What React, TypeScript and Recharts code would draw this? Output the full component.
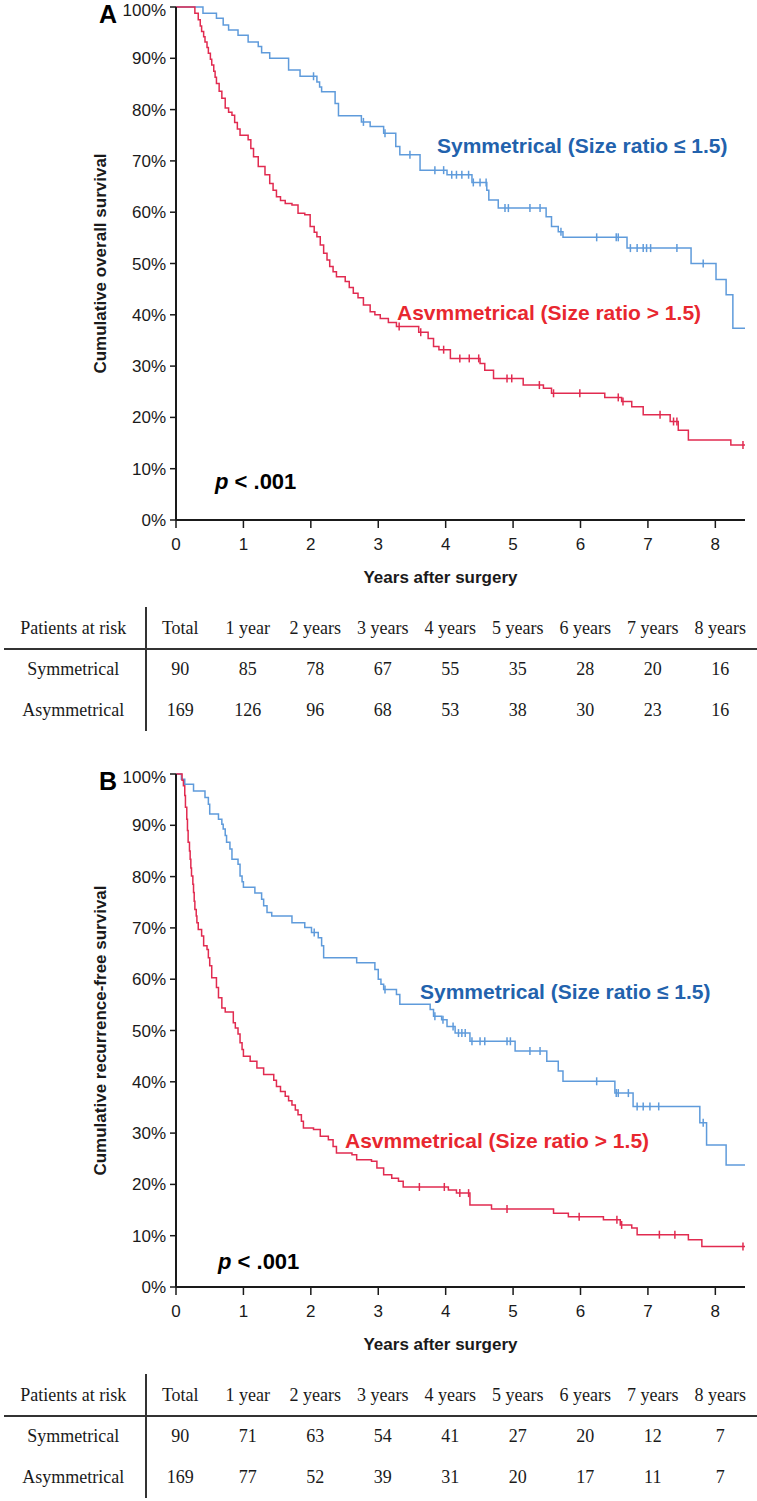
import React from "react"
import { ComposedChart, Line, Scatter, XAxis, YAxis } from "recharts"

// step points: [years, survival %] after each drop, last point = end of follow-up
const osSymSteps: [number, number][] = [
  [0, 100], [0.4, 98.8], [0.6, 97.8], [0.7, 96.5], [0.78, 95.5], [0.92, 94.5], [1.07, 93.2],
  [1.22, 92.3], [1.27, 91.1], [1.39, 90.0], [1.67, 87.7], [1.84, 86.5], [2.09, 85.4], [2.13, 84.4],
  [2.16, 83.5], [2.36, 81.2], [2.41, 78.8], [2.75, 77.6], [2.88, 76.7], [3.08, 75.4], [3.26, 72.8],
  [3.32, 71.2], [3.62, 68.2], [4.02, 67.3], [4.39, 65.8], [4.61, 64.3], [4.64, 62.4], [4.78, 60.8],
  [5.49, 59.1], [5.57, 57.2], [5.67, 56.2], [5.74, 55.1], [6.69, 53.0], [7.64, 50.0], [8.01, 46.9],
  [8.16, 43.9], [8.26, 37.4], [8.44, 37.4],
]
const osSymCensor = [
  2.04, 2.78, 3.1, 3.47, 3.84, 3.97, 4.09, 4.16, 4.24, 4.34, 4.41, 4.51, 4.6, 4.88, 4.93, 5.25,
  5.4, 5.71, 6.24, 6.53, 6.56, 6.74, 6.84, 6.93, 6.98, 7.04, 7.43, 7.82,
]
const osAsymSteps: [number, number][] = [
  [0, 100], [0.28, 98.8], [0.33, 97.5], [0.36, 96.3], [0.38, 95.2], [0.41, 94.2], [0.43, 93.2],
  [0.46, 92.1], [0.48, 91.0], [0.51, 89.8], [0.53, 88.7], [0.56, 87.5], [0.58, 86.3], [0.6, 85.1],
  [0.64, 83.6], [0.68, 82.2], [0.73, 80.3], [0.78, 79.5], [0.83, 78.9], [0.87, 77.5], [0.91, 76.2],
  [0.95, 75.0], [1.07, 74.1], [1.11, 72.4], [1.15, 70.8], [1.22, 68.9], [1.32, 67.3], [1.39, 65.6],
  [1.44, 64.3], [1.49, 63.0], [1.55, 62.3], [1.62, 61.7], [1.72, 61.4], [1.81, 59.8], [1.91, 59.5],
  [1.99, 57.2], [2.05, 56.1], [2.09, 55.2], [2.14, 53.6], [2.19, 52.0], [2.24, 50.7], [2.28, 49.4],
  [2.33, 48.4], [2.38, 47.4], [2.51, 46.5], [2.57, 45.3], [2.63, 44.2], [2.7, 43.3], [2.78, 41.9],
  [2.88, 40.6], [2.95, 40.0], [3.03, 39.3], [3.15, 38.5], [3.27, 37.7], [3.6, 36.6], [3.74, 35.4],
  [3.82, 33.8], [3.9, 33.2], [4.07, 31.5], [4.51, 30.5], [4.58, 29.2], [4.71, 27.6], [5.15, 26.3],
  [5.45, 25.7], [5.57, 24.7], [6.36, 23.9], [6.61, 23.1], [6.76, 22.1], [6.93, 20.5], [7.33, 19.2],
  [7.45, 17.5], [7.6, 15.6], [8.23, 14.6], [8.44, 14.6],
]
const osAsymCensor = [
  3.31, 3.63, 3.97, 4.21, 4.35, 4.49, 4.91, 4.98, 5.39, 5.6, 5.99, 6.56, 6.63, 7.18, 7.38, 7.43, 8.41,
]

const rfsSymSteps: [number, number][] = [
  [0, 100], [0.08, 99.0], [0.13, 98.0], [0.26, 96.7], [0.43, 95.4], [0.48, 94.1], [0.5, 92.2],
  [0.63, 91.2], [0.68, 90.2], [0.7, 89.3], [0.73, 88.0], [0.75, 86.7], [0.8, 85.4], [0.83, 83.4],
  [0.92, 82.4], [0.95, 80.1], [0.98, 79.0], [1.0, 77.9], [1.17, 76.8], [1.27, 75.6], [1.3, 74.3],
  [1.35, 73.0], [1.42, 72.3], [1.72, 71.0], [1.91, 70.1], [2.01, 69.1], [2.11, 68.1], [2.16, 66.5],
  [2.19, 64.2], [2.68, 63.2], [2.95, 61.9], [3.0, 60.0], [3.04, 59.0], [3.08, 58.0], [3.27, 57.0],
  [3.32, 55.1], [3.77, 54.1], [3.82, 52.8], [3.94, 52.1], [4.02, 50.8], [4.14, 49.5], [4.36, 47.9],
  [5.03, 46.0], [5.5, 44.0], [5.67, 42.1], [5.74, 40.1], [6.51, 37.8], [6.78, 35.2], [7.77, 32.0],
  [7.87, 27.7], [8.16, 23.8], [8.44, 23.8],
]
const rfsSymCensor = [
  2.05, 3.1, 3.84, 3.96, 4.11, 4.19, 4.24, 4.29, 4.39, 4.51, 4.58, 4.91, 4.96, 5.25, 5.4, 6.24,
  6.53, 6.56, 6.71, 6.84, 6.93, 7.03, 7.16, 7.82,
]
const rfsAsymSteps: [number, number][] = [
  [0, 100], [0.09, 98.8], [0.11, 97.7], [0.13, 95.8], [0.14, 93.5], [0.16, 91.2], [0.17, 89.0],
  [0.18, 86.7], [0.2, 85.0], [0.21, 83.4], [0.22, 81.7], [0.23, 80.1], [0.25, 78.5], [0.26, 76.9],
  [0.27, 75.2], [0.28, 73.6], [0.3, 72.3], [0.31, 71.0], [0.33, 69.7], [0.38, 68.4], [0.41, 66.5],
  [0.46, 65.8], [0.48, 64.2], [0.5, 62.6], [0.53, 60.3], [0.6, 58.4], [0.63, 56.4], [0.68, 54.4],
  [0.73, 53.6], [0.85, 51.5], [0.88, 50.5], [0.92, 49.3], [0.95, 47.6], [0.98, 46.3], [1.0, 45.0],
  [1.1, 44.0], [1.2, 42.7], [1.3, 41.4], [1.45, 40.3], [1.49, 39.1], [1.55, 38.1], [1.62, 37.2],
  [1.67, 36.3], [1.72, 35.5], [1.77, 34.5], [1.81, 33.6], [1.86, 32.3], [1.89, 31.0], [2.04, 30.7],
  [2.14, 29.4], [2.26, 28.7], [2.33, 27.4], [2.38, 26.1], [2.61, 25.8], [2.68, 24.8], [2.9, 24.5],
  [2.98, 23.2], [3.08, 21.9], [3.2, 21.2], [3.3, 20.6], [3.37, 19.5], [4.04, 18.9], [4.16, 18.3],
  [4.36, 16.0], [4.68, 15.2], [5.6, 14.4], [5.82, 13.7], [6.34, 13.1], [6.59, 12.1], [6.76, 11.5],
  [6.84, 10.2], [7.6, 9.2], [7.8, 7.9], [8.44, 7.9],
]
const rfsAsymCensor = [3.61, 3.98, 4.21, 4.34, 4.91, 5.98, 6.54, 6.61, 7.17, 7.4, 8.41]

const yearTicks = [0, 1, 2, 3, 4, 5, 6, 7, 8]
const pctTicks = [0, 10, 20, 30, 40, 50, 60, 70, 80, 90, 100]

const riskHeader = ["Total", "1 year", "2 years", "3 years", "4 years", "5 years", "6 years", "7 years", "8 years"]
const osRiskSym = [90, 85, 78, 67, 55, 35, 28, 20, 16]
const osRiskAsym = [169, 126, 96, 68, 53, 38, 30, 23, 16]
const rfsRiskSym = [90, 71, 63, 54, 41, 27, 20, 12, 7]
const rfsRiskAsym = [169, 77, 52, 39, 31, 20, 17, 11, 7]

const BLUE = "#5f9bdb"
const RED = "#e12b50"
const BLUE_TXT = "#2262ad"
const RED_TXT = "#e8272f"
const INK = "#1a1a1a"
const SANS = "'Liberation Sans', Arial, sans-serif"
const SERIF = "'Liberation Serif', 'Times New Roman', serif"

function toPoints(steps: [number, number][]) {
  return steps.map(([t, s]) => ({ t, s }))
}

function survAt(steps: [number, number][], t: number) {
  let s = 100
  for (const [tt, v] of steps) if (tt <= t) s = v
  return s
}

function censorPoints(steps: [number, number][], times: number[]) {
  return times.map((t) => ({ t, s: survAt(steps, t) }))
}

const tickMark = (color: string) => (props: any) => {
  const { cx, cy } = props
  return <line x1={cx} x2={cx} y1={cy - 4} y2={cy + 4} stroke={color} strokeWidth={1.5} />
}

interface PanelProps {
  letter: string
  yLabel: string
  symSteps: [number, number][]
  symCensor: number[]
  asymSteps: [number, number][]
  asymCensor: number[]
  riskSym: number[]
  riskAsym: number[]
  symLabelPos: { left: number; top: number }
  asymLabelPos: { left: number; top: number }
  pPos: { left: number; top: number }
}

function RiskTable({ sym, asym }: { sym: number[]; asym: number[] }) {
  const cell = { width: 67.5, textAlign: "center" as const }
  const row = { display: "flex", height: 41, alignItems: "center" }
  return (
    <div style={{ position: "absolute", top: 607, left: 0, width: 757, height: 124, fontFamily: SERIF, fontSize: 18, color: INK }}>
      <div style={{ position: "absolute", left: 145, top: 0, width: 1.5, height: 124, background: "#333" }} />
      <div style={{ position: "absolute", left: 4, right: 0, top: 41, height: 2, background: "#333" }} />
      <div style={{ ...row, height: 42 }}>
        <div style={{ width: 146.5, textAlign: "center" }}>Patients at risk</div>
        {riskHeader.map((h) => (
          <div key={h} style={cell}>{h}</div>
        ))}
      </div>
      <div style={row}>
        <div style={{ width: 146.5, textAlign: "center" }}>Symmetrical</div>
        {sym.map((v, i) => (
          <div key={i} style={cell}>{v}</div>
        ))}
      </div>
      <div style={row}>
        <div style={{ width: 146.5, textAlign: "center" }}>Asymmetrical</div>
        {asym.map((v, i) => (
          <div key={i} style={cell}>{v}</div>
        ))}
      </div>
    </div>
  )
}

function KMPanel(p: PanelProps) {
  const tickStyle = { fill: INK, fontSize: 17, fontFamily: SANS }
  return (
    <div style={{ position: "relative", width: 757, height: 767 }}>
      <ComposedChart width={757} height={600} margin={{ top: 7, right: 12, bottom: 0, left: 0 }}>
        <XAxis
          dataKey="t"
          type="number"
          domain={[0, 8.44]}
          ticks={yearTicks}
          allowDataOverflow
          height={80}
          tick={tickStyle}
          tickSize={8}
          tickMargin={10}
          axisLine={{ stroke: INK, strokeWidth: 2 }}
          tickLine={{ stroke: INK, strokeWidth: 1.5 }}
          label={{
            value: "Years after surgery",
            position: "insideTop",
            offset: 51,
            dx: -20,
            fill: INK,
            fontSize: 17,
            fontWeight: "bold",
            fontFamily: SANS,
          }}
        />
        <YAxis
          dataKey="s"
          type="number"
          domain={[0, 100]}
          ticks={pctTicks}
          width={176}
          tick={tickStyle}
          tickFormatter={(v) => `${v}%`}
          tickSize={6}
          tickMargin={4}
          axisLine={{ stroke: INK, strokeWidth: 2 }}
          tickLine={{ stroke: INK, strokeWidth: 1.5 }}
          label={{
            value: p.yLabel,
            angle: -90,
            position: "center",
            dx: 12,
            fill: INK,
            fontSize: 17,
            fontWeight: "bold",
            fontFamily: SANS,
          }}
        />
        <Line
          data={toPoints(p.symSteps)}
          dataKey="s"
          type="stepAfter"
          stroke={BLUE}
          strokeWidth={1.5}
          dot={false}
          isAnimationActive={false}
        />
        <Line
          data={toPoints(p.asymSteps)}
          dataKey="s"
          type="stepAfter"
          stroke={RED}
          strokeWidth={1.5}
          dot={false}
          isAnimationActive={false}
        />
        <Scatter
          data={censorPoints(p.symSteps, p.symCensor)}
          dataKey="s"
          shape={tickMark(BLUE)}
          isAnimationActive={false}
        />
        <Scatter
          data={censorPoints(p.asymSteps, p.asymCensor)}
          dataKey="s"
          shape={tickMark(RED)}
          isAnimationActive={false}
        />
      </ComposedChart>

      <div style={{ position: "absolute", left: 99, top: 2, fontFamily: SANS, fontWeight: "bold", fontSize: 25, color: "#000", lineHeight: 1 }}>
        {p.letter}
      </div>
      <div style={{ position: "absolute", ...p.symLabelPos, fontFamily: SANS, fontWeight: "bold", fontSize: 21, color: BLUE_TXT, lineHeight: 1, whiteSpace: "nowrap" }}>
        Symmetrical (Size ratio ≤ 1.5)
      </div>
      <div style={{ position: "absolute", ...p.asymLabelPos, fontFamily: SANS, fontWeight: "bold", fontSize: 21, color: RED_TXT, lineHeight: 1, whiteSpace: "nowrap" }}>
        Asvmmetrical (Size ratio &gt; 1.5)
      </div>
      <div style={{ position: "absolute", ...p.pPos, fontFamily: SANS, fontWeight: "bold", fontSize: 22, color: "#000", lineHeight: 1, whiteSpace: "nowrap" }}>
        <i>p</i> &lt; .001
      </div>

      <RiskTable sym={p.riskSym} asym={p.riskAsym} />
    </div>
  )
}

export default function App() {
  return (
    <div style={{ position: "absolute", left: 0, top: 0, width: 757, height: 1501, background: "#fff" }}>
      <KMPanel
        letter="A"
        yLabel="Cumulative overall survival"
        symSteps={osSymSteps}
        symCensor={osSymCensor}
        asymSteps={osAsymSteps}
        asymCensor={osAsymCensor}
        riskSym={osRiskSym}
        riskAsym={osRiskAsym}
        symLabelPos={{ left: 437, top: 135 }}
        asymLabelPos={{ left: 397, top: 302 }}
        pPos={{ left: 215, top: 471 }}
      />
      <KMPanel
        letter="B"
        yLabel="Cumulative recurrence-free survival"
        symSteps={rfsSymSteps}
        symCensor={rfsSymCensor}
        asymSteps={rfsAsymSteps}
        asymCensor={rfsAsymCensor}
        riskSym={rfsRiskSym}
        riskAsym={rfsRiskAsym}
        symLabelPos={{ left: 420, top: 214 }}
        asymLabelPos={{ left: 345, top: 363 }}
        pPos={{ left: 218, top: 484 }}
      />
    </div>
  )
}
